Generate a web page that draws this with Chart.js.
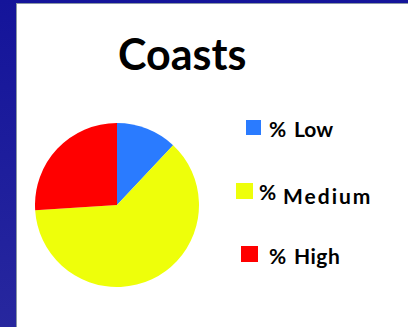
<!DOCTYPE html>
<html>
<head>
<meta charset="utf-8">
<script src="https://cdn.jsdelivr.net/npm/chart.js@4"></script>
<style>
  html, body { margin: 0; padding: 0; }
  body {
    width: 408px; height: 327px; overflow: hidden; position: relative;
    background: linear-gradient(#14149a, #27279e);
    font-family: Lato, "Open Sans", sans-serif;
  }
  #panel {
    position: absolute; left: 16px; top: 3px; right: -2px; bottom: -2px;
    background: #fff; border: 1px solid #8a97a6;
  }
  #title {
    position: absolute; left: 101px; top: 28px;
    font-size: 43px; line-height: 43px; font-weight: bold; color: #000;
  }
  #pieBox { position: absolute; left: 18px; top: 119px; width: 164px; height: 164px; }
  .item { position: absolute; font-size: 21px; line-height: 21px; font-weight: bold; color: #000; white-space: nowrap; }
</style>
</head>
<body>
<div id="panel">
  <div id="title"></div>
  <div id="pieBox"><canvas id="myChart"></canvas></div>
  <div id="legend"></div>
</div>
<script>
'use strict';

const chartTitle = "Coasts";
const labels = ["% Low", "% Medium", "% High"];
const values = [12, 62, 26];
const colors = ["#2a7bff", "#eeff0a", "#ff0000"];

// legend item layout, relative to the white panel (square x,y,w,h / text x,y / letter spacing)
const legendLayout = [
  { box: [229, 116, 15, 15], pct: [252, 114], name: [277, 114], spacing: 0 },
  { box: [219, 179, 17, 16], pct: [242, 177], name: [266, 181], spacing: 2 },
  { box: [224, 242, 17, 16], pct: [252, 241], name: [277, 241], spacing: 0.5 },
];

document.getElementById("title").textContent = chartTitle;

function renderLegend() {
  const legendElm = document.getElementById("legend");
  for (let i = 0; i < labels.length; i++) {
    const pos = legendLayout[i];
    const parts = labels[i].split(" ");

    const boxElm = document.createElement("div");
    boxElm.className = "item";
    boxElm.style.left = pos.box[0] + "px";
    boxElm.style.top = pos.box[1] + "px";
    boxElm.style.width = pos.box[2] + "px";
    boxElm.style.height = pos.box[3] + "px";
    boxElm.style.background = colors[i];
    legendElm.appendChild(boxElm);

    const pctElm = document.createElement("div");
    pctElm.className = "item";
    pctElm.style.left = pos.pct[0] + "px";
    pctElm.style.top = pos.pct[1] + "px";
    pctElm.textContent = parts[0];
    legendElm.appendChild(pctElm);

    const nameElm = document.createElement("div");
    nameElm.className = "item";
    nameElm.style.left = pos.name[0] + "px";
    nameElm.style.top = pos.name[1] + "px";
    nameElm.style.letterSpacing = pos.spacing + "px";
    nameElm.textContent = parts.slice(1).join(" ");
    legendElm.appendChild(nameElm);
  }
}

renderLegend();

const ctx = document.getElementById("myChart");
new Chart(ctx, {
  type: "pie",
  data: {
    labels: labels,
    datasets: [
      {
        data: values,
        backgroundColor: colors,
        borderWidth: 0,
      },
    ],
  },
  options: {
    responsive: true,
    maintainAspectRatio: false,
    animation: false,
    layout: { padding: 0 },
    plugins: {
      legend: { display: false },
      tooltip: { enabled: false },
    },
  },
});
</script>
</body>
</html>
